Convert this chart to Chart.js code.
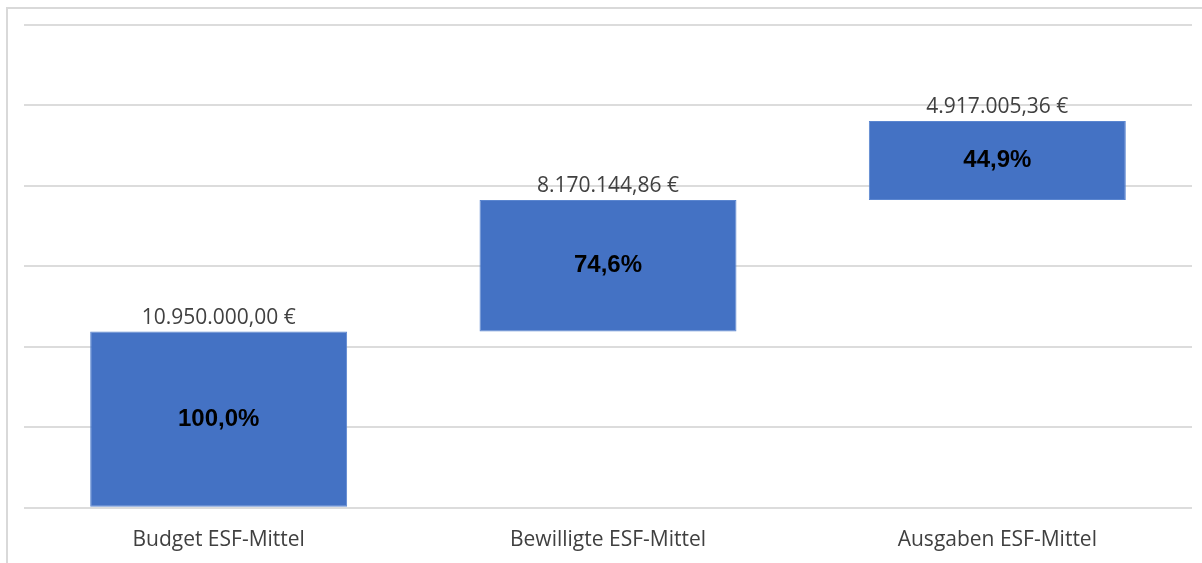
<!DOCTYPE html>
<html lang="de">
<head>
<meta charset="utf-8">
<title>ESF-Mittel</title>
<script src="https://cdn.jsdelivr.net/npm/chart.js@4/dist/chart.umd.min.js"></script>
<style>
    html, body { margin: 0; padding: 0; background: #fff; }
    #wrap { position: relative; width: 1202px; height: 563px; }
    #frame {
        position: absolute; left: 6px; top: 7px; right: 0; bottom: 0;
        border-left: 2px solid #d9d9d9; border-top: 2px solid #d9d9d9;
        pointer-events: none;
    }
    canvas { position: absolute; left: 0; top: 0; }
</style>
</head>
<body>
<div id="wrap">
    <canvas id="esfChart" width="1202" height="563"></canvas>
    <div id="frame"></div>
</div>
<script>
// Data
const categories = ['Budget ESF-Mittel', 'Bewilligte ESF-Mittel', 'Ausgaben ESF-Mittel'];
const amounts = [10950000.00, 8170144.86, 4917005.36];
const yMax = 30000000;
const yStep = 5000000;

// Waterfall-style floating bars: each bar starts where the previous one ended
let running = 0;
const floating = amounts.map(v => {
    const seg = [running, running + v];
    running += v;
    return seg;
});

// German number format: 10.950.000,00 €
function euro(v) {
    const parts = v.toFixed(2).split('.');
    const intPart = parts[0].replace(/\B(?=(\d{3})+(?!\d))/g, '.');
    return intPart + ',' + parts[1] + ' €';
}
function percent(v) {
    return (v / amounts[0] * 100).toFixed(1).replace('.', ',') + '%';
}

// Labels above and inside the bars
const barLabels = {
    id: 'barLabels',
    afterDatasetsDraw(chart) {
        const ctx = chart.ctx;
        const meta = chart.getDatasetMeta(0);
        ctx.save();
        ctx.textAlign = 'center';
        ctx.textBaseline = 'middle';
        meta.data.forEach((bar, i) => {
            const top = Math.min(bar.y, bar.base);
            const bottom = Math.max(bar.y, bar.base);
            ctx.fillStyle = '#404040';
            ctx.font = '21px "Open Sans", sans-serif';
            ctx.fillText(euro(amounts[i]), bar.x, top - 14);
            ctx.fillStyle = '#000';
            ctx.font = 'bold 24px "Liberation Sans", Arial, sans-serif';
            ctx.fillText(percent(amounts[i]), bar.x, (top + bottom) / 2);
        });
        ctx.restore();
    }
};

const ctx = document.getElementById('esfChart').getContext('2d');
new Chart(ctx, {
    type: 'bar',
    data: {
        labels: categories,
        datasets: [{
            data: floating,
            backgroundColor: '#4472c4',
            borderColor: '#5b86d0',
            borderWidth: 1,
            borderSkipped: false,
            barPercentage: 0.66,
            categoryPercentage: 1.0
        }]
    },
    options: {
        responsive: false,
        animation: false,
        layout: { padding: { left: 24, right: 10, top: 25, bottom: 0 } },
        scales: {
            x: {
                grid: { display: false, tickLength: 10 },
                border: { display: false },
                ticks: {
                    color: '#404040',
                    padding: 10,
                    font: { family: '"Open Sans", sans-serif', size: 21 }
                }
            },
            y: {
                min: 0,
                max: yMax,
                grid: { color: '#dcdcdc', lineWidth: 2, drawTicks: false },
                border: { display: false },
                ticks: { display: false, stepSize: yStep }
            }
        },
        plugins: {
            legend: { display: false },
            tooltip: { enabled: false }
        }
    },
    plugins: [barLabels]
});
</script>
</body>
</html>
